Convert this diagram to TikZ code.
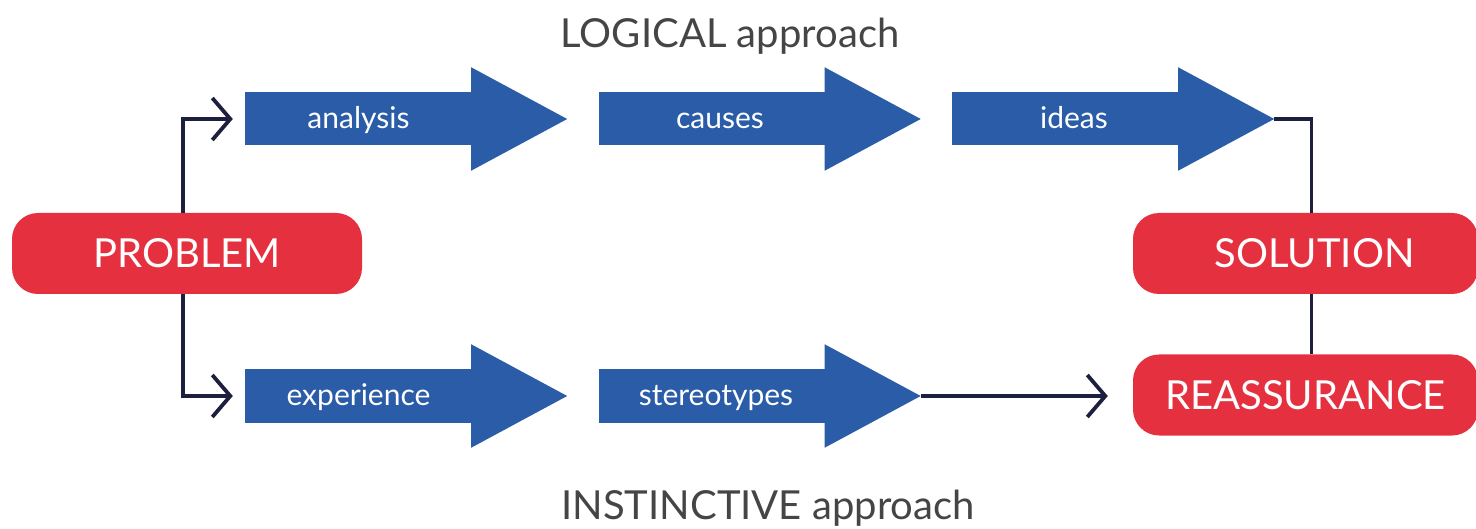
\documentclass[tikz,border=0pt]{standalone}
\usepackage{fontspec}
\setmainfont{Lato}
\usetikzlibrary{arrows.meta,calc}
\definecolor{arrowblue}{HTML}{2A5CA8}
\definecolor{boxred}{HTML}{E5313F}
\definecolor{linknavy}{HTML}{1C1F3D}
\definecolor{titlegray}{HTML}{454545}
\tikzset{
  shaft/.style={fill=arrowblue, text=white, minimum width=227pt, minimum height=53pt,
    inner sep=0pt, text height=24pt, text depth=4pt, font=\fontsize{30}{36}\selectfont},
  redbox/.style={fill=boxred, text=white, rounded corners=26pt, minimum height=81pt,
    inner sep=0pt, font=\fontsize{40}{48}\selectfont},
  title/.style={text=titlegray, inner sep=0pt, font=\fontsize{40}{48}\selectfont},
  link/.style={draw=linknavy, line width=3.8pt},
  linkarrow/.style={link, -{Straight Barb[length=18pt,width=42pt]}},
}
% head of a block arrow attached to the east side of a shaft node
\newcommand\blockhead[2]{%
  \fill[arrowblue] ([xshift=-1pt,yshift=25pt]#1.north east)
    -- ([xshift=95pt]#1.east) coordinate (#2)
    -- ([xshift=-1pt,yshift=-25pt]#1.south east) -- cycle;}
\begin{document}
\begin{tikzpicture}[x=1pt,y=-1pt]
\useasboundingbox (0,0) rectangle (1476,529);

\node[title] (logical) at (730,36) {LOGICAL approach};
\node[title] (instinct) at (768,508) {INSTINCTIVE approach};

% logical path
\node[shaft] (analysis) at (358.5,119) {analysis};
\blockhead{analysis}{tipA}
\node[shaft] (causes) at (712,119) {\hspace*{16pt}causes};
\blockhead{causes}{tipB}
\node[shaft] (ideas) at (1065.5,119) {\hspace*{17pt}ideas};
\blockhead{ideas}{tipC}

% instinctive path
\node[shaft] (experience) at (358.5,396) {experience};
\blockhead{experience}{tipD}
\node[shaft] (stereo) at (712,396) {\hspace*{8pt}stereotypes};
\blockhead{stereo}{tipE}

% end points
\node[redbox, minimum width=350pt] (problem) at (187,253.5) {PROBLEM};
\node[redbox, minimum width=345pt] (solution) at (1305.5,253.5) {\hspace*{18pt}SOLUTION};
\node[redbox, minimum width=345pt] (reassure) at (1305.5,395) {REASSURANCE};

% connectors
\draw[linkarrow, shorten >=12pt] ([xshift=-4pt]problem.north) |- (analysis.west);
\draw[linkarrow, shorten >=12pt] ([xshift=-4pt]problem.south) |- (experience.west);
\draw[link] (tipC) -| ([xshift=6pt]solution.north);
\draw[link] ([xshift=6pt]solution.south) -- ([xshift=6pt]reassure.north);
\draw[linkarrow, shorten >=25pt] (tipE) -- (tipE -| reassure.west);
\end{tikzpicture}
\end{document}
